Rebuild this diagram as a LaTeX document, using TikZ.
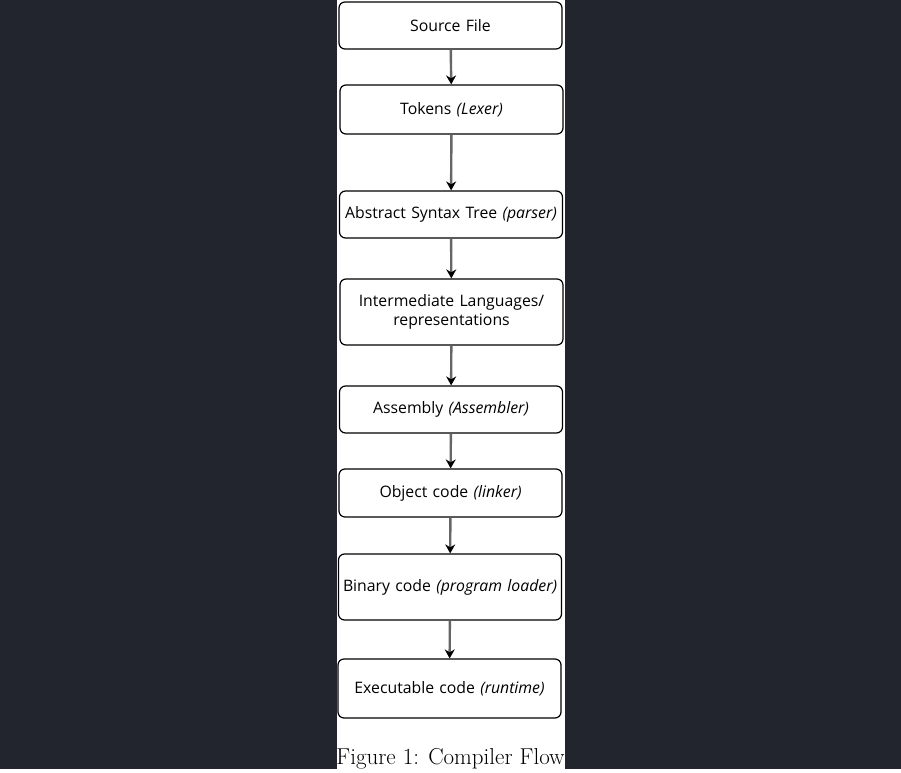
\documentclass[tikz,border=0pt]{standalone}
\usepackage{fontspec}
\newfontfamily\stagefont{Open Sans}
\usetikzlibrary{arrows.meta}
\definecolor{pagebg}{HTML}{22252E}

\begin{document}
\begin{tikzpicture}[x=1pt, y=-1pt, ->, >={Stealth[length=9pt, width=10pt, color=black]},
    flow/.style={draw=black!60, line width=2.4pt},
    stage/.style={rectangle, rounded corners=6pt, draw, line width=1.2pt, fill=white,
        minimum width=223pt, text width=219pt, align=center, inner sep=0pt,
        font=\stagefont\fontsize{15.8}{19.5}\selectfont}]

    \fill[pagebg] (0,0) rectangle (901,769);
    \fill[white] (337,0) rectangle (565,769);

    \node[stage, minimum height=47pt] (src) at (450.5,25.5) {Source File};
    \node[stage, minimum height=49pt] (tok) at (451.5,109.5) {Tokens \textit{(Lexer)}};
    \node[stage, minimum height=47pt] (ast) at (451,214.5) {Abstract Syntax Tree \textit{(parser)}};
    \node[stage, minimum height=66pt] (ir) at (451.5,312) {Intermediate Languages/\\representations};
    \node[stage, minimum height=47pt] (asm) at (451,409.5) {Assembly \textit{(Assembler)}};
    \node[stage, minimum height=48pt] (obj) at (450.5,493) {Object code \textit{(linker)}};
    \node[stage, minimum height=66pt] (bin) at (450,587) {Binary code \textit{(program loader)}};
    \node[stage, minimum height=59pt] (exe) at (449.5,688.5) {Executable code \textit{(runtime)}};
    \node[font=\fontsize{23}{26}\selectfont] (cap) at (450.5,758.5) {Figure 1: Compiler Flow};
\path
        (src) edge[flow] (tok)
        (tok) edge[flow] (ast)
        (ast) edge[flow] (ir)
        (ir) edge[flow] (asm)
        (asm) edge[flow] (obj)
        (obj) edge[flow] (bin)
        (bin) edge[flow] (exe)
;
\end{tikzpicture}
\end{document}
